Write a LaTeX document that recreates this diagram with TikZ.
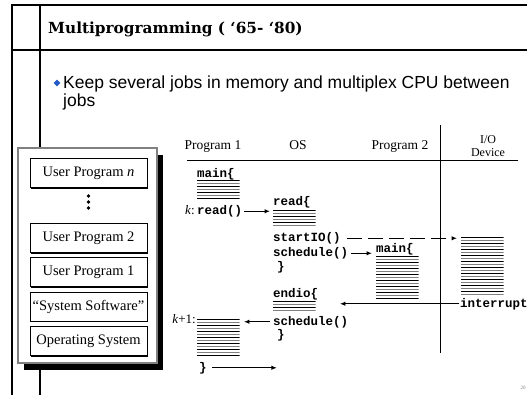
\documentclass[tikz,border=0pt]{standalone}
\usepackage{fontspec}
\setmainfont{Liberation Serif}
\setsansfont{Liberation Sans}
\setmonofont{Liberation Mono}
\newfontfamily\titlefont{DejaVu Serif}
\usetikzlibrary{arrows.meta,shadows,shapes.geometric,positioning,calc}
\definecolor{bulletblue}{RGB}{35,90,200}

\begin{document}
\begin{tikzpicture}[x=1pt,y=-1pt,
		mem/.style={draw,fill=white,line width=.8pt,minimum width=117pt,minimum height=29pt,inner sep=0pt,font=\fontsize{14.5}{16}\selectfont,drop shadow={shadow xshift=1.3pt,shadow yshift=-1.3pt,fill=black,opacity=1}},
		hdr/.style={anchor=base,inner sep=0pt,font=\fontsize{13.5}{15}\selectfont},
		code/.style={anchor=base west,inner sep=0pt,font=\fontsize{12.5}{13}\selectfont\ttfamily\bfseries},
		lab/.style={anchor=base east,inner sep=0pt,font=\fontsize{13}{14}\selectfont},
		codelines/.style={anchor=north west,inner sep=0pt,minimum width=42.5pt,minimum height=#1,
			path picture={\foreach \k in {0,...,25}{\ifodd\k\def\cc{gray}\else\def\cc{black}\fi
				\pgfmathsetmacro\yy{-0.6-3*\k}
				\draw[\cc,line width=1pt]([yshift=\yy pt]path picture bounding box.north west)--++(60pt,0);}}},
		arr/.style={-{Latex[length=5.5pt,width=4.5pt]},line width=1.1pt}]
		\useasboundingbox(0,0)rectangle(527,395);
		% slide frame
		\draw[line width=2pt](12,395)--(12,5)--(527,5);
		\draw[line width=1.5pt](12,50)--(527,50);
		\draw[line width=1.2pt](40,5)--(40,395);
		\node[anchor=base west,inner sep=0pt,font=\titlefont\bfseries\fontsize{15.3}{17}\selectfont](title)at(48,34){Multiprogramming ( ‘65- ‘80)};
		\node[diamond,fill=bulletblue,inner sep=0pt,minimum size=7pt](dot)at(57,83){};
		\node[anchor=base west,inner sep=0pt,font=\sffamily\fontsize{17.5}{18}\selectfont](point)at(63,89){Keep several jobs in memory and multiplex CPU between};
		\node[anchor=base west,inner sep=0pt,font=\sffamily\fontsize{17.5}{18}\selectfont](point2)at([yshift=-18pt]point.base west){jobs};
		% memory layout
		\node[draw=gray,line width=1.5pt,fill=white,minimum width=139pt,minimum height=215pt,drop shadow={shadow xshift=6pt,shadow yshift=-7pt,fill=black,opacity=1}](memory)at(87.5,255.5){};
		\node[mem](upn)at(88.5,173){User Program \textit{n}};
		\node[mem](up2)at(88.5,238){User Program 2};
		\node[mem,below=4.5pt of up2](up1){User Program 1};
		\node[mem,below=4.5pt of up1](syssw){“System Software”};
		\node[mem,below=4.5pt of syssw](opsys){Operating System};
		\foreach \d in {-9.5,-3.5,2.5}
			\fill($(upn)!.5!(up2)+(0,\d)$)circle(1.8pt);
		% timeline
		\node[hdr](p1)at(213,150){Program 1};
		\node[hdr](os)at(298,150){OS};
		\node[hdr](p2)at(400,150){Program 2};
		\node[align=center,inner sep=0pt,font=\fontsize{12}{13}\selectfont](io)at(488,146){I/O\\Device};
		\draw[line width=1pt](187,161)--(518,161);
		\draw[line width=1pt](440,125)--(440,353);
		\node[code](p1main)at(197,177.5){main\{};
		\node[codelines=19](p1blk)at(197,179.5){};
		\node[code](rd)at(197,214.5){read()};
		\node[lab](k)at(195,214.5){\textit{k}:};
		\node[code](osread)at(273,206){read\{};
		\node[codelines=18](osblk)at(273,209.5){};
		\node[code](sio)at(273,241.5){startIO()};
		\node[code](sch)at(273,256.5){schedule()};
		\node[code](osend)at(277,270.5){\}};
		\node[code](p2main)at(376,252.5){main\{};
		\node[codelines=44](p2blk)at(376,255.5){};
		\node[codelines=59](ioblk)at(461,236.5){};
		\node[code](intr)at(460,307){interrupt};
		\node[code](endio)at(273,298){endio\{};
		\node[codelines=10](endblk)at(273,300.5){};
		\node[code](sch2)at(273,325){schedule()};
		\node[code](osend2)at(277,338){\}};
		\node[lab](k1)at(196,323){\textit{k}+1:};
		\node[codelines=39](p1blk2)at(197,318.5){};
		\node[code](p1end)at(199,371){\}};
		\coordinate(back)at([xshift=70pt]p1end.east);
		\draw[arr,shorten <=2pt,shorten >=3pt](rd.east)--(rd.east-|osblk.west);
		\draw[arr,shorten <=3pt,shorten >=4pt](sch.east)--(sch.east-|p2blk.west);
		\draw[arr,dash pattern=on 15pt off 6pt,shorten <=6pt,shorten >=4pt](sio.east)--(sio.east-|ioblk.west);
		\draw[arr,shorten <=1pt,shorten >=24pt](intr.west)--(intr.west-|endblk.east);
		\draw[arr,shorten <=3pt,shorten >=4pt](sch2.west)--(sch2.west-|p1blk2.east);
		\draw[arr,shorten <=5pt](p1end.east)--(back);
		\node[font=\fontsize{5}{5}\selectfont,text=gray](pg)at(523,388){20};
	\end{tikzpicture}
\end{document}
